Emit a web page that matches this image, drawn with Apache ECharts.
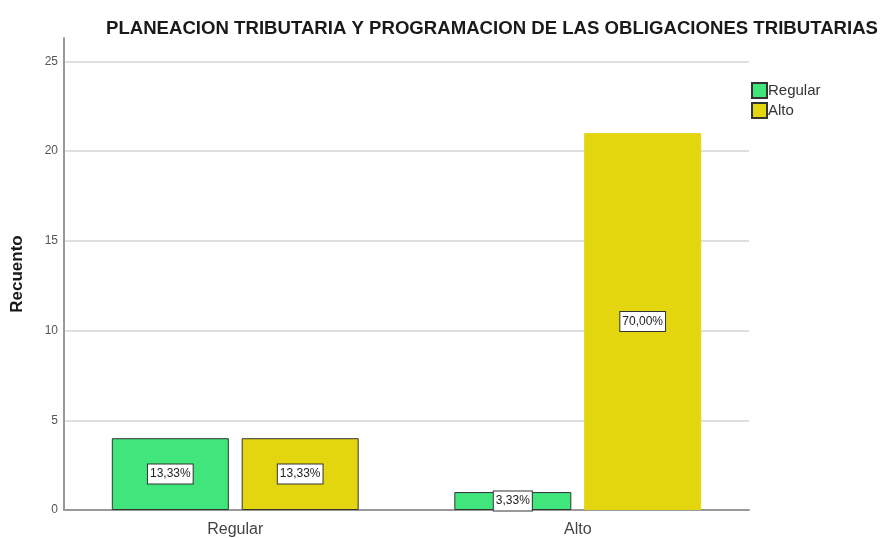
<!DOCTYPE html>
<html>
<head>
<meta charset="utf-8">
<script src="https://cdn.jsdelivr.net/npm/echarts@6/dist/echarts.min.js"></script>
<style>
  html, body { margin: 0; padding: 0; background: #fff; }
  #chart { width: 888px; height: 538px; }
</style>
</head>
<body>
<div id="chart"></div>
<script>
var categories = ["Regular", "Alto"];
var seriesNames = ["Regular", "Alto"];
var regularValues = [4, 1];
var altoValues = [4, 21];
var regularLabels = ["13,33%", "3,33%"];
var altoLabels = ["13,33%", "70,00%"];
var yTicks = [0, 5, 10, 15, 20, 25];

var green = "#40e67c";
var yellow = "#e3d60e";

var chart = echarts.init(document.getElementById("chart"));

function $each(arr, fn) { for (var i = 0; i < arr.length; i++) fn(arr[i], i); }

function makeData(values, labels, color, borderless) {
  var out = [];
  $each(values, function (v, i) {
    out.push({
      value: v,
      pct: labels[i],
      itemStyle: {
        color: color,
        borderColor: borderless[i] ? color : "#333",
        borderWidth: 1
      }
    });
  });
  return out;
}

var labelStyle = {
  show: true,
  position: "inside",
  color: "#222",
  fontSize: 12,
  fontFamily: "Liberation Sans, Arial",
  backgroundColor: "#fff",
  borderColor: "#333",
  borderWidth: 1,
  padding: [4, 2, 3, 2],
  formatter: function (p) { return p.data.pct; }
};

var option = {
  animation: false,
  title: {
    text: "PLANEACION TRIBUTARIA Y PROGRAMACION DE LAS OBLIGACIONES TRIBUTARIAS",
    left: 101,
    top: 14,
    textStyle: {
      fontSize: 18.6,
      fontWeight: "bold",
      color: "#1a1a1a",
      fontFamily: "Liberation Sans, Arial"
    }
  },
  legend: {
    orient: "vertical",
    left: 746,
    top: 77,
    itemWidth: 15,
    itemHeight: 15,
    itemGap: 3,
    icon: "rect",
    data: seriesNames,
    textStyle: { fontSize: 15, color: "#333", fontFamily: "Liberation Sans, Arial", padding: [0, 0, 0, -4] }
  },
  grid: {
    left: 64,
    right: 139,
    top: 38,
    bottom: 28
  },
  xAxis: {
    type: "category",
    data: categories,
    axisLine: { lineStyle: { color: "#999", width: 2 } },
    axisTick: { show: false },
    axisLabel: { fontSize: 16, color: "#444", fontFamily: "Liberation Sans, Arial", margin: 12 }
  },
  yAxis: {
    type: "value",
    min: 0,
    max: 26.3,
    interval: 5,
    name: "Recuento",
    nameLocation: "middle",
    nameGap: 38,
    nameTextStyle: { fontSize: 17, fontWeight: "bold", color: "#1a1a1a", fontFamily: "Liberation Sans, Arial" },
    axisLine: { show: true, lineStyle: { color: "#999", width: 2 } },
    axisTick: { show: false },
    axisLabel: {
      fontSize: 12,
      color: "#555",
      fontFamily: "Liberation Sans, Arial",
      margin: 6,
      showMaxLabel: false,
      formatter: function (v) { return yTicks.indexOf(v) >= 0 ? String(v) : ""; }
    },
    splitLine: { show: true, showMinLine: false, showMaxLine: false, lineStyle: { color: "#d6d6d6", width: 1.5 } }
  },
  series: [
    {
      name: seriesNames[0],
      type: "bar",
      barWidth: 117,
      barGap: "11%",
      itemStyle: { color: green, borderColor: "#333", borderWidth: 1 },
      label: labelStyle,
      data: makeData(regularValues, regularLabels, green, [false, false])
    },
    {
      name: seriesNames[1],
      type: "bar",
      barWidth: 117,
      barGap: "11%",
      itemStyle: { color: yellow, borderColor: "#333", borderWidth: 1 },
      label: labelStyle,
      data: makeData(altoValues, altoLabels, yellow, [false, true])
    }
  ]
};

chart.setOption(option);
window.onresize = function () { chart.resize(); };
</script>
</body>
</html>
